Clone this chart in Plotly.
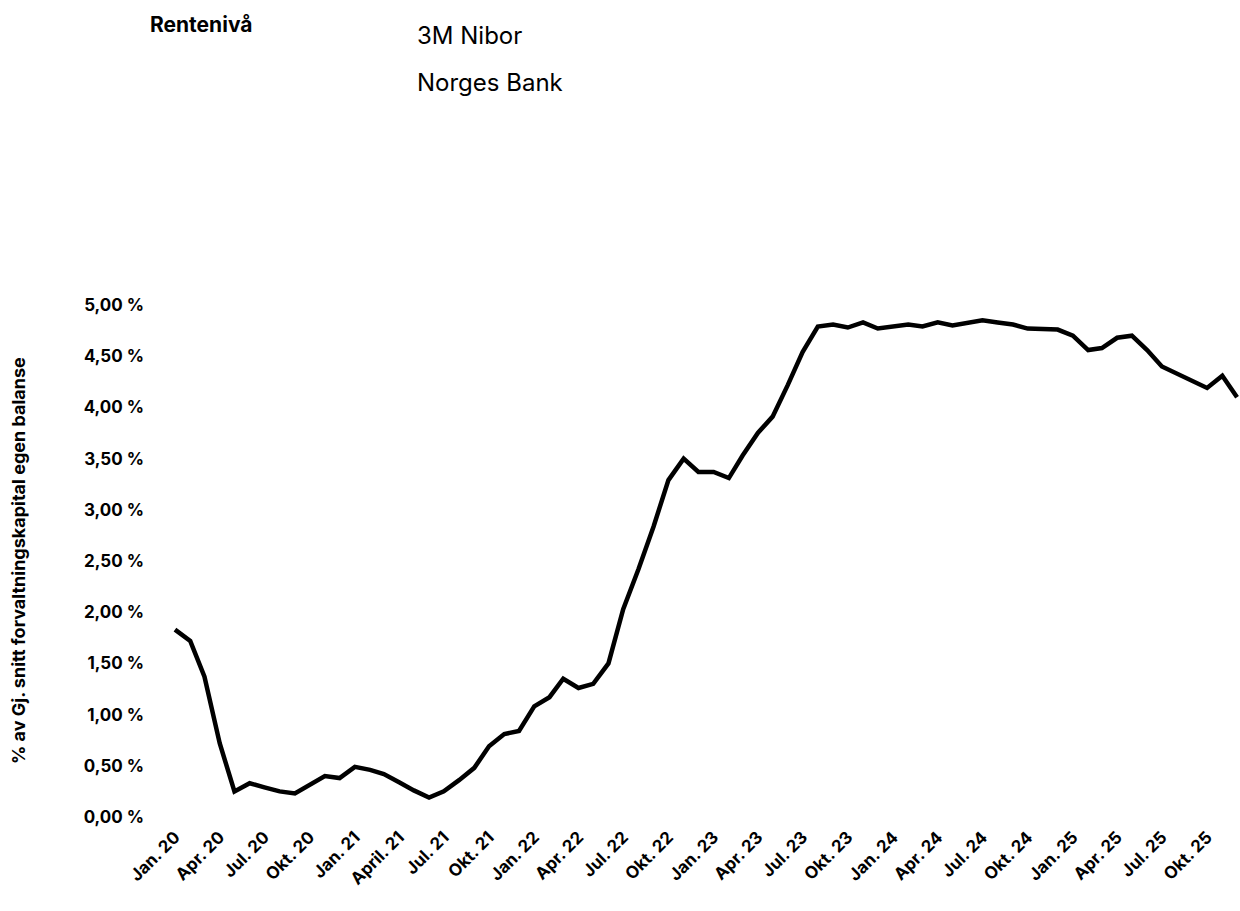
import pandas as pd
import plotly.graph_objects as go

# Månedlige verdier, jan. 2020 - des. 2025 (3M Nibor, %)
maaneder = pd.date_range("2020-01-01", "2025-12-01", freq="MS")
nibor = [
    1.83, 1.72, 1.37, 0.72, 0.25, 0.33, 0.29, 0.25, 0.23, 0.31, 0.40, 0.38,
    0.49, 0.46, 0.42, 0.34, 0.26, 0.19, 0.25, 0.36, 0.48, 0.69, 0.81, 0.84,
    1.08, 1.17, 1.35, 1.26, 1.30, 1.50, 2.03, 2.42, 2.84, 3.29, 3.50, 3.37,
    3.37, 3.31, 3.53, 3.75, 3.91, 4.22, 4.54, 4.79, 4.81, 4.78, 4.83, 4.77,
    4.79, 4.81, 4.79, 4.83, 4.80, 4.82, 4.85, 4.83, 4.81, 4.77, 4.76, 4.76,
    4.70, 4.56, 4.58, 4.68, 4.70, 4.56, 4.40, 4.33, 4.26, 4.19, 4.31, 4.10,
]

# x-akse: hver tredje måned
tick_datoer = maaneder[::3]
tick_tekst = [
    "Jan. 20", "Apr. 20", "Jul. 20", "Okt. 20",
    "Jan. 21", "April. 21", "Jul. 21", "Okt. 21",
    "Jan. 22", "Apr. 22", "Jul. 22", "Okt. 22",
    "Jan. 23", "Apr. 23", "Jul. 23", "Okt. 23",
    "Jan. 24", "Apr. 24", "Jul. 24", "Okt. 24",
    "Jan. 25", "Apr. 25", "Jul. 25", "Okt. 25",
]

# y-akse
y_verdier = [0, 0.5, 1, 1.5, 2, 2.5, 3, 3.5, 4, 4.5, 5]
y_tekst = [f"{v:.2f}".replace(".", ",") + " %" for v in y_verdier]

font = "Inter, Roboto, Arial, sans-serif"

fig = go.Figure()
fig.add_trace(go.Scatter(
    x=maaneder, y=nibor, mode="lines", name="3M Nibor",
    line=dict(color="black", width=4.5), showlegend=False,
))

fig.update_layout(
    width=1240, height=911,
    margin=dict(l=145, r=0, t=305, b=94),
    paper_bgcolor="white", plot_bgcolor="white",
    font=dict(family=font, color="black"),
)
fig.update_xaxes(
    range=["2019-11-01", "2025-12-07"],
    tickvals=tick_datoer, ticktext=tick_tekst, tickangle=-45,
    tickfont=dict(size=17, weight="bold"), ticklabelstandoff=6,
    showgrid=False, zeroline=False, showline=False,
)
fig.update_yaxes(
    range=[0, 5], tickvals=y_verdier, ticktext=y_tekst,
    tickfont=dict(size=17, weight="bold"),
    showgrid=False, zeroline=False, showline=False,
)

# Tittel, "legende" og y-aksetittel
fig.add_annotation(text="<b>Rentenivå</b>", xref="paper", yref="paper",
                   x=0.0027, y=1.547, xanchor="left", yanchor="middle",
                   showarrow=False, font=dict(size=21))
fig.add_annotation(text="3M Nibor", xref="paper", yref="paper",
                   x=0.2466, y=1.527, xanchor="left", yanchor="middle",
                   showarrow=False, font=dict(size=24))
fig.add_annotation(text="Norges Bank", xref="paper", yref="paper",
                   x=0.2466, y=1.434, xanchor="left", yanchor="middle",
                   showarrow=False, font=dict(size=24))
fig.add_annotation(text="<b>% av Gj. snitt forvaltningskapital egen balanse</b>",
                   xref="paper", yref="paper", x=0, y=0.5, xshift=-127,
                   xanchor="center", yanchor="middle", textangle=-90,
                   showarrow=False, font=dict(size=18))

# fjerner standardmargen på siden så figuren fyller vinduet
fig.write_html("out.html", config={"displayModeBar": False},
               post_script="document.body.style.margin = '0';")
